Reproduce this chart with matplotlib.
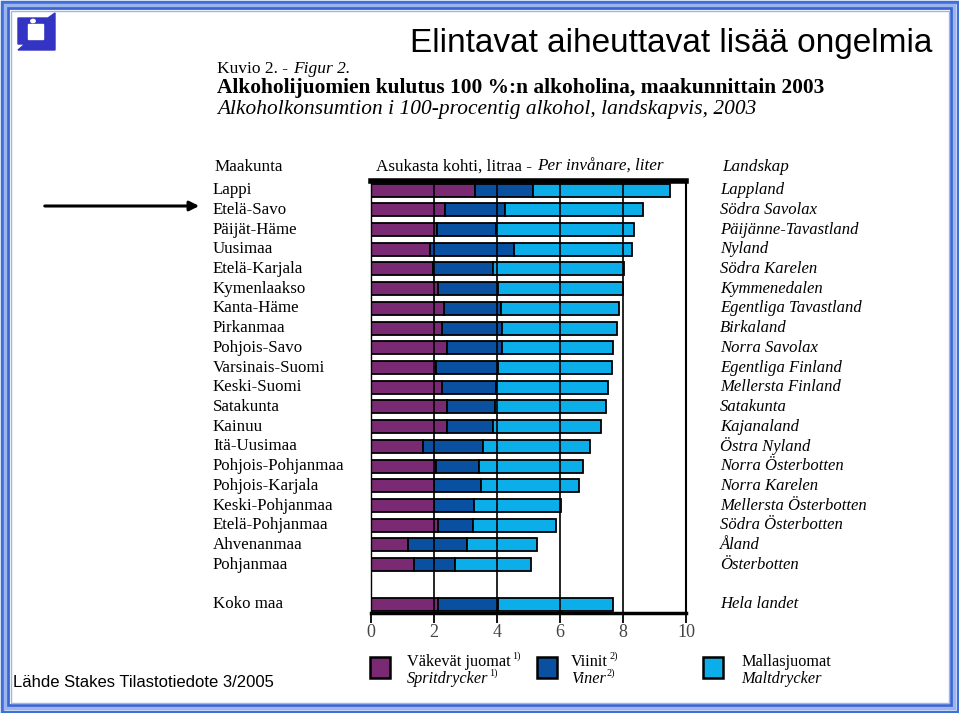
import matplotlib
matplotlib.use("Agg")
import matplotlib.pyplot as plt
import matplotlib.patches as patches
import matplotlib.transforms as mtransforms

W, H = 959, 713

regions_fi = ["Lappi", "Etelä-Savo", "Päijät-Häme", "Uusimaa", "Etelä-Karjala",
              "Kymenlaakso", "Kanta-Häme", "Pirkanmaa", "Pohjois-Savo",
              "Varsinais-Suomi", "Keski-Suomi", "Satakunta", "Kainuu",
              "Itä-Uusimaa", "Pohjois-Pohjanmaa", "Pohjois-Karjala",
              "Keski-Pohjanmaa", "Etelä-Pohjanmaa", "Ahvenanmaa", "Pohjanmaa",
              "Koko maa"]
regions_sv = ["Lappland", "Södra Savolax", "Päijänne-Tavastland", "Nyland",
              "Södra Karelen", "Kymmenedalen", "Egentliga Tavastland", "Birkaland",
              "Norra Savolax", "Egentliga Finland", "Mellersta Finland", "Satakunta",
              "Kajanaland", "Östra Nyland", "Norra Österbotten", "Norra Karelen",
              "Mellersta Österbotten", "Södra Österbotten", "Åland", "Österbotten",
              "Hela landet"]
# litres of 100 % alcohol per inhabitant
spirits = [3.30, 2.36, 2.09, 1.88, 1.99, 2.12, 2.31, 2.26, 2.43, 2.07,
           2.27, 2.43, 2.43, 1.67, 2.07, 2.01, 2.01, 2.12, 1.19, 1.37, 2.12]
wine = [1.86, 1.90, 1.89, 2.65, 1.90, 1.91, 1.82, 1.89, 1.72, 1.96,
        1.71, 1.52, 1.46, 1.90, 1.38, 1.48, 1.27, 1.12, 1.86, 1.31, 1.93]
beer = [4.32, 4.37, 4.36, 3.75, 4.15, 3.96, 3.73, 3.66, 3.52, 3.62,
        3.54, 3.52, 3.41, 3.39, 3.27, 3.12, 2.75, 2.64, 2.22, 2.41, 3.63]
xticks = [0, 2, 4, 6, 8, 10]

c_spirit = "#7a2a72"
c_wine = "#0a50a0"
c_beer = "#0caeea"

# row positions: 20 regions, then one empty slot, then the whole country
rows = list(range(20)) + [21]


def fx(x):
    return x / W


def fy(y):
    return 1 - y / H


fig = plt.figure(figsize=(W / 100, H / 100), dpi=100)
fig.patch.set_facecolor("white")
renderer = fig.canvas.get_renderer()
serif = "Liberation Serif"

# slide frame
for inset, lw, col in [(1.5, 2.5, "#3f6fd8"), (5, 2.5, "#9db5ee"),
                       (8, 2.0, "#3a66d4"), (10.5, 1.0, "#9db5ee")]:
    fig.patches.append(patches.Rectangle(
        (fx(inset), fy(H - inset)), fx(W - 2 * inset), (H - 2 * inset) / H,
        transform=fig.transFigure, fill=False, lw=lw, edgecolor=col))

# logo
logo = [(18, 18), (48, 18), (55, 13), (55, 50), (18, 50), (25, 44), (18, 44)]
fig.patches.append(patches.Polygon([(fx(a), fy(b)) for a, b in logo],
                                   transform=fig.transFigure, color="#3434c4"))
fig.patches.append(patches.Rectangle((fx(28), fy(39)), fx(15), 15 / H,
                                     transform=fig.transFigure, color="white"))
fig.patches.append(patches.Circle((fx(33), fy(21)), 2.2 / W,
                                  transform=fig.transFigure, color="white"))

# slide title and source
fig.text(fx(932), fy(52), "Elintavat aiheuttavat lisää ongelmia",
         family="Liberation Sans", fontsize=24, ha="right", va="baseline")
fig.text(fx(13), fy(687), "Lähde Stakes Tilastotiedote 3/2005",
         family="Liberation Sans", fontsize=12, va="baseline")


def run(x, y, parts, size):
    # write text pieces one after another on the same baseline
    for s, style, sup in parts:
        t = fig.text(fx(x), fy(y), s, family=serif, fontsize=size, style=style,
                     va="baseline")
        x = t.get_window_extent(renderer).x1 + 1
        if sup:
            t2 = fig.text(fx(x), fy(y - 7), sup, family=serif, fontsize=size * 0.62,
                          va="baseline")
            x = t2.get_window_extent(renderer).x1 + 3
    return x


run(217, 73, [("Kuvio 2. - ", "normal", None), ("Figur 2.", "italic", None)], 12.5)
fig.text(fx(217), fy(93), "Alkoholijuomien kulutus 100 %:n alkoholina, maakunnittain 2003",
         family=serif, fontsize=15.4, weight="bold", va="baseline")
fig.text(fx(217), fy(114), "Alkoholkonsumtion i 100-procentig alkohol, landskapvis, 2003",
         family=serif, fontsize=15.4, style="italic", va="baseline")

run(215, 171, [("Maakunta", "normal", None)], 12.3)
run(376, 171, [("Asukasta kohti, litraa - ", "normal", None),
               ("Per invånare, liter", "italic", None)], 12.3)
run(722, 171, [("Landskap", "italic", None)], 12.3)

# chart
ax = fig.add_axes([fx(370.7), fy(613), fx(315.3), (613 - 181) / H])
ax.set_facecolor("white")
left2 = [s + w for s, w in zip(spirits, wine)]
ax.barh(rows, spirits, height=0.66, color=c_spirit, edgecolor="black", lw=1.3, zorder=2)
ax.barh(rows, wine, left=spirits, height=0.66, color=c_wine, edgecolor="black",
        lw=1.3, zorder=2)
ax.barh(rows, beer, left=left2, height=0.66, color=c_beer, edgecolor="black",
        lw=1.3, zorder=2)
for x in xticks[1:-1]:
    ax.axvline(x, color="black", lw=1.2, zorder=3)
ax.set_xlim(0, 10)
ax.set_ylim(21.45, -0.46)
ax.set_yticks([])
ax.set_xticks(xticks)
ax.set_xticklabels([str(t) for t in xticks], family=serif, fontsize=13, color="#444444")
ax.tick_params(axis="x", length=7, width=1.3, pad=1)
ax.spines["top"].set_linewidth(4)
ax.spines["bottom"].set_linewidth(2.5)
ax.spines["right"].set_linewidth(1.5)
ax.spines["left"].set_linewidth(1.0)

# row labels
tr = mtransforms.blended_transform_factory(fig.transFigure, ax.transData)
for r, fi, sv in zip(rows, regions_fi, regions_sv):
    ax.text(fx(213), r, fi, transform=tr, family=serif, fontsize=12.2, va="center")
    ax.text(fx(720), r, sv, transform=tr, family=serif, fontsize=12,
            style="italic", va="center")

# arrow towards the top regions
fig.patches.append(patches.FancyArrowPatch(
    (fx(42), fy(206)), (fx(202), fy(206)), transform=fig.transFigure,
    arrowstyle="-|>", mutation_scale=14, lw=2.2, color="black"))

# legend
for x0, col in [(370, c_spirit), (537, c_wine), (703, c_beer)]:
    fig.patches.append(patches.Rectangle((fx(x0), fy(678)), fx(20), 21 / H,
                                         transform=fig.transFigure, facecolor=col,
                                         edgecolor="black", lw=1.8))
run(407, 666, [("Väkevät juomat", "normal", "1)")], 11.7)
run(407, 683, [("Spritdrycker", "italic", "1)")], 11.7)
run(571, 666, [("Viinit", "normal", "2)")], 11.7)
run(571, 683, [("Viner", "italic", "2)")], 11.7)
run(741, 666, [("Mallasjuomat", "normal", None)], 11.7)
run(741, 683, [("Maltdrycker", "italic", None)], 11.7)

fig.savefig("out.png", dpi=100)
